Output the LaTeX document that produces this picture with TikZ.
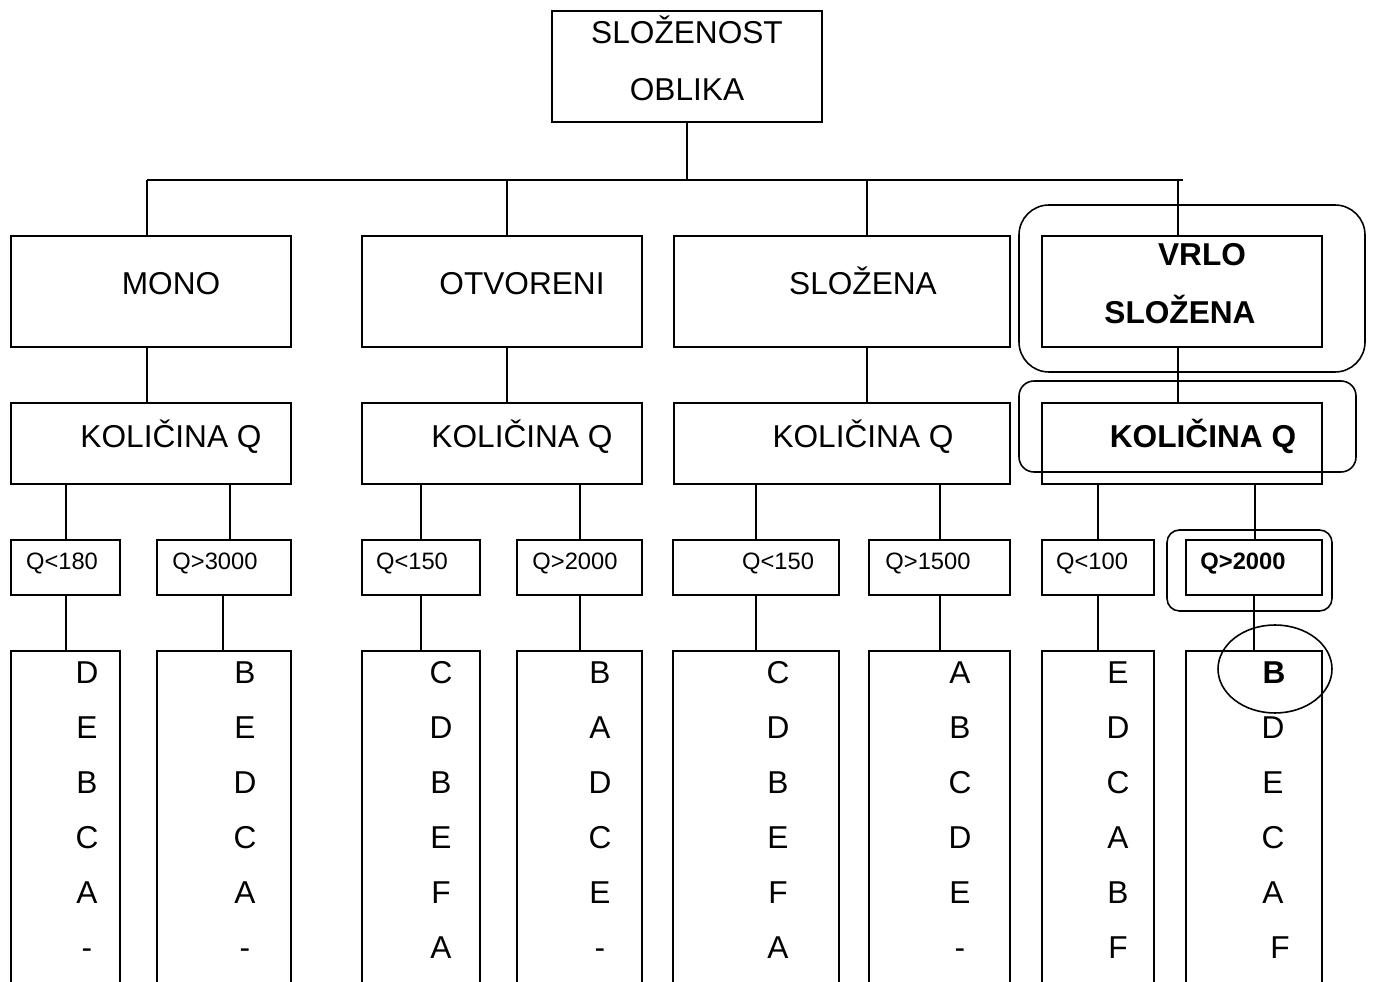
\documentclass[tikz,border=0pt]{standalone}
\usepackage{fontspec}
\setmainfont{Liberation Sans}
\usetikzlibrary{fit}

\begin{document}
\begin{tikzpicture}[x=0.02cm, y=-0.02cm, line width=1.3pt,
  box/.style={draw, inner sep=0pt},
  ring/.style={draw, line width=0.9pt, inner sep=0pt, rounded corners=#1},
  big/.style={font=\fontsize{18}{20}\selectfont, inner sep=0pt, text height=12.9pt, text depth=0pt},
  small/.style={font=\fontsize{13.5}{15}\selectfont, inner sep=0pt, text height=9.7pt, text depth=0pt}]
  \useasboundingbox (0,0) rectangle (1373,982);
  \clip (0,0) rectangle (1373,982);

  % --- Root ---
  \node[box, fit={(552,11) (822,122)}] (root) {};
  \node[big] (rootA) at (687,32) {SLOŽENOST};
  \node[big] (rootB) at (687,89) {OBLIKA};
  \coordinate (bus) at (687,180);
  \draw (root.south) -- (bus);
  \draw (bus -| 147,0) -- (bus -| 1183,0);

  % --- Shape classes and quantity boxes ---
  \foreach \n/\a/\b/\t/\lx/\name in {mono/11/291/171/147/MONO, otv/362/642/522/507/OTVORENI, slo/674/1010/863/867/SLOŽENA}{
    \node[box, fit={(\a,236) (\b,347)}] (\n) {};
    \node[big] (\n-t) at (\t,283) {\name};
    \node[box, fit={(\a,403) (\b,484)}] (\n-q) {};
    \node[big] (\n-qt) at (\t,436) {KOLIČINA Q};
    \draw (bus -| \lx,0) -- (\n.north -| \lx,0);
    \draw (\n.south -| \lx,0) -- (\n-q.north -| \lx,0);
  }
  \node[box, fit={(1042,236) (1322,347)}] (vrlo) {};
  \node[big, font=\fontsize{18}{20}\selectfont\bfseries] (vrlo-a) at (1202,254) {VRLO};
  \node[big, font=\fontsize{18}{20}\selectfont\bfseries] (vrlo-b) at (1180,312) {SLOŽENA};
  \node[box, fit={(1042,403) (1322,484)}] (vrlo-q) {};
  \node[big, font=\fontsize{18}{20}\selectfont\bfseries] (vrlo-qt) at (1203,436) {KOLIČINA Q};
  \draw (bus -| 1178,0) -- (vrlo.north -| 1178,0);
  \draw (vrlo.south -| 1178,0) -- (vrlo-q.north -| 1178,0);

  % --- Quantity ranges and orderings ---
  \foreach \c/\p/\a/\b/\t/\ux/\lx/\q/\x/\letters in {
      m1/mono/11/120/62/66/66/Q<180/87/{D,E,B,C,A,-},
      m2/mono/157/291/215/230/223/Q>3000/245/{B,E,D,C,A,-},
      o1/otv/362/480/412/421/421/Q<150/441/{C,D,B,E,F,A},
      o2/otv/517/642/575/580/580/Q>2000/600/{B,A,D,C,E,-},
      s1/slo/673/839/778/756/756/Q<150/778/{C,D,B,E,F,A},
      s2/slo/869/1010/928/940/940/Q>1500/960/{A,B,C,D,E,-},
      v1/vrlo/1042/1154/1092/1098/1098/Q<100/1118/{E,D,C,A,B,F}}{
    \node[box, fit={(\a,540) (\b,595)}] (\c) {};
    \node[small] (\c-t) at (\t,561) {\q};
    \node[box, fit={(\a,651) (\b,995)}] (\c-col) {};
    \draw (\p-q.south -| \ux,0) -- (\c.north -| \ux,0);
    \draw (\c.south -| \lx,0) -- (\c-col.north -| \lx,0);
    \foreach \l [count=\i] in \letters
      \node[big] (\c-\i) at (\x,617+55*\i) {\l};
  }
  \node[box, fit={(1186,540) (1322,595)}] (v2) {};
  \node[small, font=\fontsize{13.5}{15}\selectfont\bfseries] (v2-t) at (1243,561) {Q>2000};
  \node[box, fit={(1186,651) (1322,995)}] (v2-col) {};
  \draw (vrlo-q.south -| 1255,0) -- (v2.north -| 1255,0);
  \draw (v2.south -| 1254,0) -- (v2-col.north -| 1254,0);
  \node[big, font=\fontsize{18}{20}\selectfont\bfseries] (v2-1) at (1274,672) {B};
  \foreach \l/\x [count=\i from 2] in {D/1273, E/1273, C/1273, A/1273, F/1280}
    \node[big] (v2-\i) at (\x,617+55*\i) {\l};

  % --- Highlights ---
  \node[ring=0.6cm, fit={(1019,205) (1365,372)}] (hl-a) {};
  \node[ring=0.3cm, fit={(1019,381) (1356,472)}] (hl-b) {};
  \node[ring=0.25cm, fit={(1167,530) (1332,611)}] (hl-c) {};
  \draw[line width=0.9pt] (1275,669) ellipse [x radius=1.14cm, y radius=0.88cm];
\end{tikzpicture}
\end{document}
